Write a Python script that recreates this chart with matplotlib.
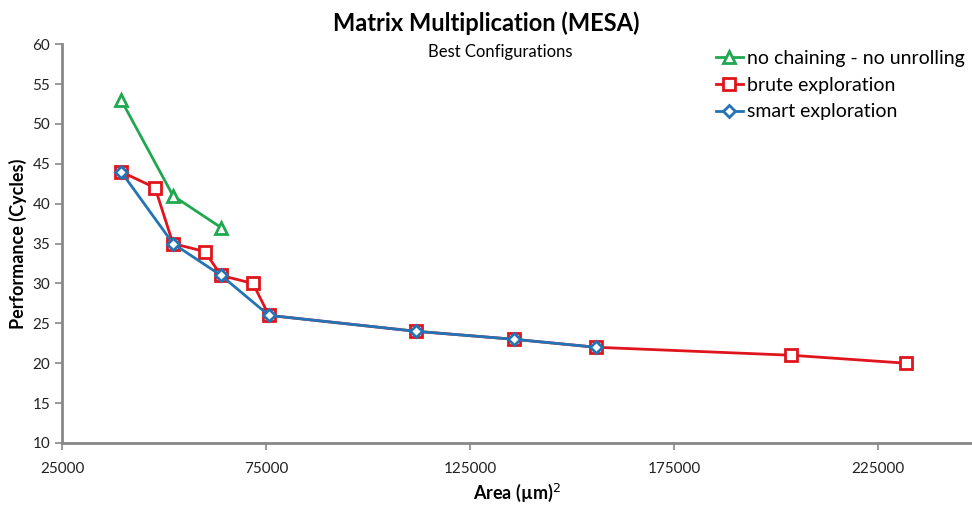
import matplotlib
matplotlib.use("Agg")
import matplotlib.pyplot as plt

plt.rcParams['font.family'] = ['Lato', 'DejaVu Sans']

# Area (um^2) vs. performance (cycles) for the best configurations
nochain_area = [39500, 52200, 64000]
nochain_cycles = [53, 41, 37]

brute_area = [39500, 47800, 52200, 60000, 64000, 71800, 75700,
              111800, 135800, 155900, 203700, 231900]
brute_cycles = [44, 42, 35, 34, 31, 30, 26, 24, 23, 22, 21, 20]

smart_area = [39500, 52200, 64000, 75700, 111800, 135800, 155900]
smart_cycles = [44, 35, 31, 26, 24, 23, 22]

x_ticks = [25000, 75000, 125000, 175000, 225000]
y_ticks = list(range(10, 61, 5))

green = '#1fa84f'
red = '#e0141c'
blue = '#2373b5'

fig = plt.figure(figsize=(9.72, 5.08), dpi=100)
ax = fig.add_axes([0.0638, 0.128, 0.9362, 0.785])

ax.plot(brute_area, brute_cycles, color=red, lw=2, marker='s', ms=9,
        mfc='white', mec=red, mew=2, label='brute exploration', zorder=2)
ax.plot(smart_area, smart_cycles, color=blue, lw=2, marker='D', ms=6.5,
        mfc='white', mec=blue, mew=2, label='smart exploration', zorder=3)
ax.plot(nochain_area, nochain_cycles, color=green, lw=2, marker='^', ms=9,
        mfc='white', mec=green, mew=2, label='no chaining - no unrolling', zorder=4)

ax.set_xlim(25000, 248000)
ax.set_ylim(10, 60)
ax.set_xticks(x_ticks)
ax.set_xticklabels([str(v) for v in x_ticks])
ax.set_yticks(y_ticks)

for s in ['top', 'right']:
    ax.spines[s].set_visible(False)
for s in ['left', 'bottom']:
    ax.spines[s].set_color('#888888')
    ax.spines[s].set_linewidth(2)
ax.tick_params(axis='both', colors='#888888', length=5, width=1.2,
               labelcolor='#222222', labelsize=11)
ax.tick_params(axis='x', pad=9)

ax.set_xlabel('Area (µm)$^2$', fontsize=13, fontweight='bold', labelpad=4)
ax.set_ylabel('Performance (Cycles)', fontsize=13, fontweight='bold', labelpad=4)

fig.text(0.5, 0.955, 'Matrix Multiplication (MESA)', ha='center', va='center',
         fontsize=17, fontweight='bold')
fig.text(0.515, 0.897, 'Best Configurations', ha='center', va='center', fontsize=12)

h, l = ax.get_legend_handles_labels()
order = [2, 0, 1]
ax.legend([h[i] for i in order], [l[i] for i in order], loc='upper left',
          bbox_to_anchor=(0.71, 1.005), frameon=False, fontsize=14,
          handlelength=1.4, handletextpad=0.2, labelspacing=0.5,
          borderaxespad=0)

fig.savefig('out.png', dpi=100)
